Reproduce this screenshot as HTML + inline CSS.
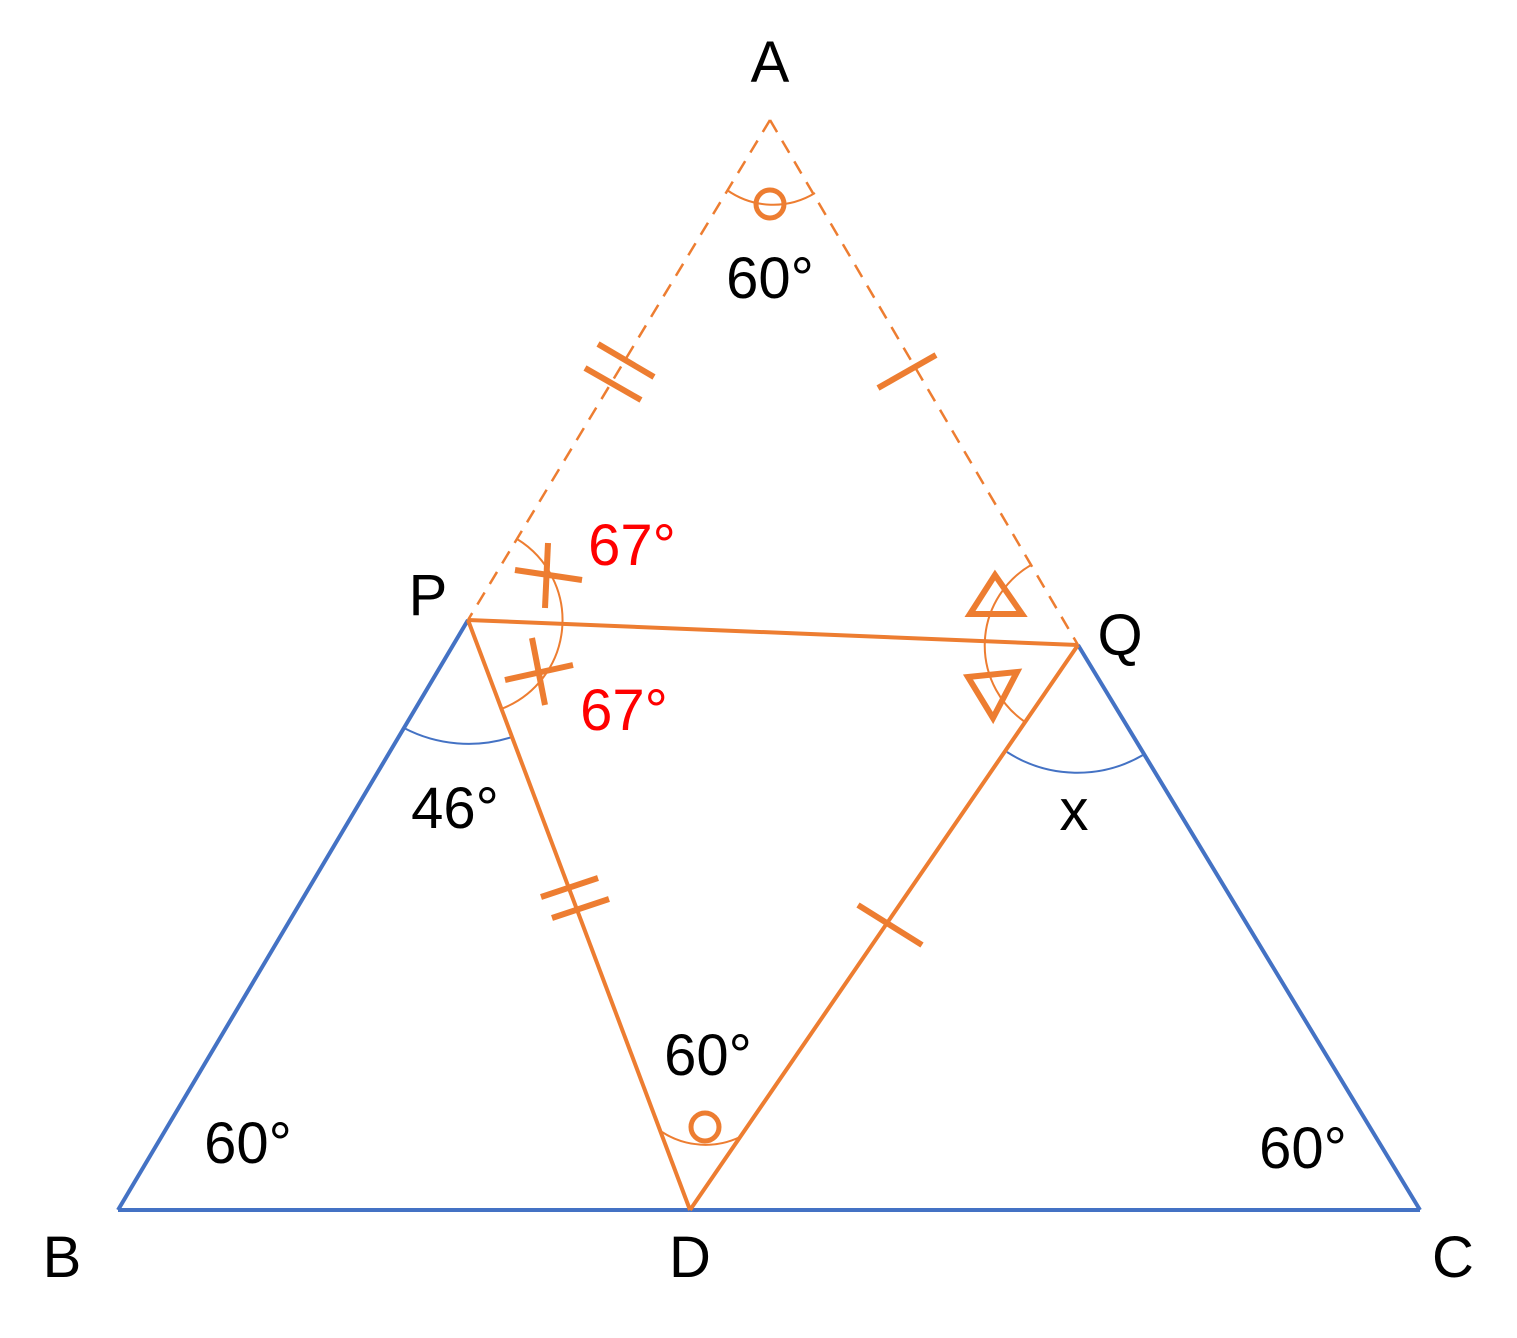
<!DOCTYPE html>
<html><head><meta charset="utf-8"><style>
html,body{margin:0;padding:0;background:#fff;}
svg{display:block}
text{font-family:"Liberation Sans","Noto Sans CJK JP",sans-serif;font-size:58px;}
</style></head><body>
<svg width="1517" height="1338" viewBox="0 0 1517 1338" xmlns="http://www.w3.org/2000/svg">
<g stroke="#4472C4" fill="none">
<line x1="118" y1="1210" x2="1420" y2="1210" stroke-width="4"/>
<line x1="118" y1="1210" x2="468" y2="620" stroke-width="4"/>
<line x1="1078" y1="645" x2="1420" y2="1210" stroke-width="4"/>
<path d="M404 728 A140 140 0 0 0 512 737" stroke-width="2"/>
<path d="M1007 752 A130 130 0 0 0 1143 755" stroke-width="2"/>
</g>
<g stroke="#ED7D31" fill="none">
<line x1="770" y1="120" x2="468" y2="620" stroke-width="2.5" stroke-dasharray="14,10"/>
<line x1="770" y1="120" x2="1078" y2="645" stroke-width="2.5" stroke-dasharray="14,10"/>
<line x1="468" y1="620" x2="1078" y2="645" stroke-width="4"/>
<line x1="468" y1="620" x2="690" y2="1210" stroke-width="4"/>
<line x1="690" y1="1210" x2="1078" y2="645" stroke-width="4"/>
<path d="M727 190 A80 80 0 0 0 815 193" stroke-width="2"/>
<circle cx="770" cy="204" r="14" stroke-width="5"/>
<path d="M662 1132 A80 80 0 0 0 740 1137" stroke-width="2"/>
<circle cx="705" cy="1127" r="14" stroke-width="5"/>
<path d="M517 539 A95 95 0 0 1 501 709" stroke-width="2"/>
<path d="M1031 565 A93 93 0 0 0 1025 722" stroke-width="2"/>
<g stroke-width="6">
<line x1="598" y1="344" x2="654" y2="377"/>
<line x1="585" y1="368" x2="641" y2="400"/>
<line x1="878" y1="388" x2="936" y2="355"/>
<line x1="541" y1="897" x2="598" y2="878"/>
<line x1="552" y1="918" x2="609" y2="899"/>
<line x1="858" y1="905" x2="922" y2="945"/>
<line x1="515" y1="570" x2="582" y2="580"/>
<line x1="548" y1="543" x2="545" y2="608"/>
<line x1="505" y1="680" x2="573" y2="665"/>
<line x1="532" y1="638" x2="545" y2="705"/>
<polygon points="995,575 970,614 1022,614"/>
<polygon points="968,677 1017,672 993,718"/>
</g>
</g>
<g fill="#000">
<text x="770" y="82" text-anchor="middle">A</text>
<text x="62" y="1277" text-anchor="middle">B</text>
<text x="1453" y="1277" text-anchor="middle">C</text>
<text x="690" y="1277" text-anchor="middle">D</text>
<text x="428" y="615" text-anchor="middle">P</text>
<text x="1120" y="655" text-anchor="middle">Q</text>
<text x="770" y="298" text-anchor="middle">60°</text>
<text x="708" y="1075" text-anchor="middle">60°</text>
<text x="248" y="1163" text-anchor="middle">60°</text>
<text x="1303" y="1168" text-anchor="middle">60°</text>
<text x="455" y="828" text-anchor="middle">46°</text>
<text x="1074" y="830" text-anchor="middle">x</text>
</g>
<g fill="#FF0000">
<text x="632" y="565" text-anchor="middle">67°</text>
<text x="624" y="730" text-anchor="middle">67°</text>
</g>
</svg>
</body></html>
